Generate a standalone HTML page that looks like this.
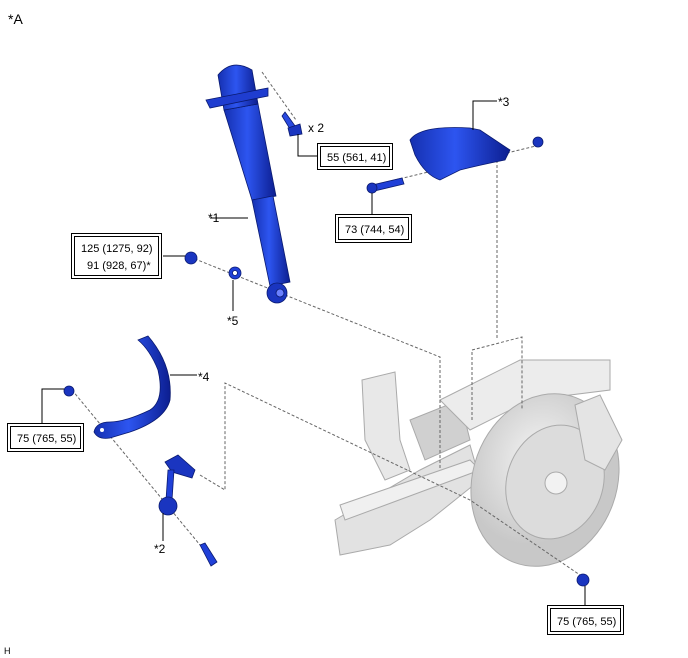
<!DOCTYPE html>
<html><head><meta charset="utf-8"><style>
body{margin:0;background:#fff}
svg{display:block}
text{font-family:"Liberation Sans",sans-serif;fill:#000}
</style></head><body>
<svg width="688" height="658" viewBox="0 0 688 658" xmlns="http://www.w3.org/2000/svg">
<defs>
<linearGradient id="bl" x1="0" x2="1"><stop offset="0" stop-color="#1530b0"/><stop offset=".45" stop-color="#2d55f0"/><stop offset="1" stop-color="#0c1e90"/></linearGradient>
<radialGradient id="gr" cx=".4" cy=".4"><stop offset="0" stop-color="#f4f4f4"/><stop offset="1" stop-color="#c8c8c8"/></radialGradient>
</defs>
<g stroke="#aaa" stroke-width="1">
<path d="M335 520 L420 470 L470 445 L480 480 L430 520 L390 545 L340 555 Z" fill="#e2e2e2"/>
<path d="M362 380 L395 372 L400 440 L410 470 L385 480 L365 440 Z" fill="#e8e8e8"/>
<path d="M410 420 L460 400 L470 440 L425 460 Z" fill="#d0d0d0"/>
<path d="M440 400 L520 360 L610 360 L610 390 L530 400 L470 430 Z" fill="#ececec"/>
<path d="M340 505 L470 460 L480 470 L345 520 Z" fill="#f0f0f0"/>
<ellipse cx="545" cy="480" rx="72" ry="88" transform="rotate(20 545 480)" fill="url(#gr)"/>
<ellipse cx="555" cy="482" rx="48" ry="58" transform="rotate(20 555 482)" fill="#dcdcdc"/>
<circle cx="556" cy="483" r="11" fill="#f2f2f2"/>
<path d="M575 405 L600 395 L622 440 L605 470 L585 460 Z" fill="#e4e4e4"/>
</g>
<g fill="none" stroke="#666" stroke-dasharray="3,2" stroke-width="1">
<path d="M262 72 L296 120"/>
<path d="M285 295 L440 357 L440 470"/>
<path d="M497 160 L497 340"/>
<path d="M472 420 L472 350 L522 337 L522 410"/>
<path d="M395 180 L540 145"/>
<path d="M190 257 L285 295"/>
<path d="M72 390 L200 545"/>
<path d="M200 475 L225 490 L225 383 L470 500 L580 575"/>
</g>
<g stroke="#0a1a70" stroke-width="0.8">
<path d="M224 110 L258 104 L276 196 L252 200 Z" fill="url(#bl)"/>
<path d="M252 200 L273 196 L290 282 L270 286 Z" fill="url(#bl)"/>
<circle cx="277" cy="293" r="10" fill="#1a35c0"/>
<circle cx="280" cy="293" r="4" fill="#6a80ff"/>
<path d="M218 75 Q232 58 252 70 L258 104 L224 110 Z" fill="url(#bl)"/>
<path d="M206 100 L268 88 L268 96 L210 108 Z" fill="#1f3dd0"/>
<path d="M285 112 L298 130 L293 134 L282 116 Z" fill="#2a4ae0"/>
<path d="M288 128 L300 124 L302 134 L290 136Z" fill="#1a35c0"/>
<path d="M410 140 Q420 125 470 128 L480 130 Q495 140 510 150 L505 160 Q480 165 460 170 L440 180 Q425 175 415 155 Z" fill="url(#bl)"/>
<path d="M368 186 L402 178 L404 184 L370 192 Z" fill="#2040d8"/>
<circle cx="372" cy="188" r="5" fill="#1a35c0"/>
<circle cx="538" cy="142" r="5" fill="#1a35c0"/>
<circle cx="191" cy="258" r="6" fill="#1a35c0"/>
<circle cx="235" cy="273" r="6" fill="#2040d8"/><circle cx="235" cy="273" r="2.5" fill="#fff"/>
<circle cx="69" cy="391" r="5" fill="#1a35c0"/>
<path d="M138 340 Q150 350 158 370 Q165 400 150 410 Q125 422 110 422 Q96 422 94 432 Q98 440 110 438 L130 432 Q165 420 170 400 Q173 365 148 336 Z" fill="url(#bl)"/>
<circle cx="102" cy="430" r="2" fill="#fff" stroke="none"/>
<path d="M165 462 L178 455 L195 470 L192 478 L172 472 Z" fill="#1a35c0"/>
<path d="M168 470 L174 470 L172 500 L166 500Z" fill="#2040d8"/>
<circle cx="168" cy="506" r="9" fill="#1a35c0"/>
<path d="M200 545 L205 543 L217 562 L211 566 Z" fill="#2040d8"/>
<circle cx="583" cy="580" r="6" fill="#1a35c0"/>
</g>
<g stroke="#000" stroke-width="1" fill="none">
<path d="M298 134 V156 H317"/>
<path d="M473 130 V101 H497"/>
<path d="M372 193 V215"/>
<path d="M210 218 H248"/>
<path d="M163 256 H185"/>
<path d="M233 280 V311"/>
<path d="M170 375 H197"/>
<path d="M42 424 V389 H64"/>
<path d="M163 513 V541"/>
<path d="M585 586 V605"/>
</g>
<g fill="#fff" stroke="#000" stroke-width="1">
<rect x="317.5" y="143.5" width="75" height="26"/><rect x="320.5" y="146.5" width="69" height="20"/>
<rect x="335.5" y="214.5" width="76" height="28"/><rect x="338.5" y="217.5" width="70" height="22"/>
<rect x="71.5" y="233.5" width="90" height="45"/><rect x="74.5" y="236.5" width="84" height="39"/>
<rect x="7.5" y="423.5" width="76" height="28"/><rect x="10.5" y="426.5" width="70" height="22"/>
<rect x="547.5" y="605.5" width="76" height="29"/><rect x="550.5" y="608.5" width="70" height="23"/>
</g>
<g font-size="11">
<text x="8" y="24" font-size="14">*A</text>
<text x="308" y="132" font-size="12">x 2</text>
<text x="327" y="161">55 (561, 41)</text>
<text x="498" y="106" font-size="12">*3</text>
<text x="345" y="233">73 (744, 54)</text>
<text x="208" y="222" font-size="12">*1</text>
<text x="81" y="252">125 (1275, 92)</text>
<text x="87" y="269">91 (928, 67)*</text>
<text x="227" y="325" font-size="12">*5</text>
<text x="198" y="381" font-size="12">*4</text>
<text x="17" y="442">75 (765, 55)</text>
<text x="154" y="553" font-size="12">*2</text>
<text x="557" y="625">75 (765, 55)</text>
<text x="4" y="654" font-size="9">H</text>
</g>
</svg>
</body></html>
